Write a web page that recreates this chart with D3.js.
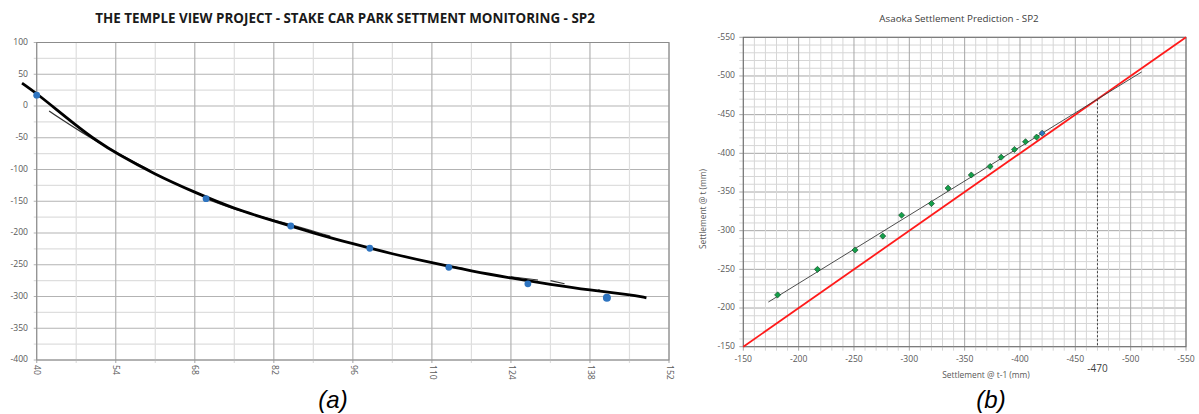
<!DOCTYPE html>
<html>
<head>
<meta charset="utf-8">
<script src="https://cdn.jsdelivr.net/npm/d3@7"></script>
<style>
body { margin: 0; background: #fff; }
svg { display: block; font-family: "Open Sans", sans-serif; }
</style>
</head>
<body>
<svg id="chart" width="1199" height="414"></svg>
<script>
// (a) settlement monitoring
const monitorDays = [40, 70, 85, 99, 113, 127, 141];
const monitorSettlement = [17, -146, -189, -224, -254, -280, -302];
const trendDays = [37.4, 40, 47, 51, 54, 61, 68, 75, 82, 89, 96, 103, 110, 117, 124, 131, 138, 145, 148];
const trendSettlement = [36, 20, -31, -57, -74, -108, -136, -162, -181, -200, -217, -233, -247, -260, -271, -281, -290, -297, -302];
const earlyFitDays = [42.2, 48, 54, 60];
const earlyFitSettlement = [-8, -42, -73, -101];
const midFitDays = [70, 76, 84, 92];
const midFitSettlement = [-146, -166, -184, -205];
const lateFitDays = [110.8, 115.6, 124, 128.8, 131, 133.5, 139.5, 140];
const lateFitSettlement = [-248, -256, -269, -274, -275, -280, -289, -292];
const dayTicks = [40, 54, 68, 82, 96, 110, 124, 138, 152];
const settlementTicks = [100, 50, 0, -50, -100, -150, -200, -250, -300, -350, -400];

// (b) Asaoka plot
const asaokaPrev = [-181, -217, -251, -276, -293, -320, -335, -356, -373, -383, -395, -405, -415, -420];
const asaokaCurr = [-217, -250, -275, -293, -320, -335, -355, -372, -383, -395, -405, -415, -421, -426];
const asaokaTicks = [-150, -200, -250, -300, -350, -400, -450, -500, -550];
const asaokaBeta = 0.882;
const asaokaIntercept = -55.46;
const fitRange = [-172.6, -510];
const finalSettlement = -470;

const svg = d3.select('#chart');
const grey = '#595959';

// ---------- chart (a) ----------
const xA = d3.scaleLinear().domain([40, 152]).range([36.7, 669]);
const yA = d3.scaleLinear().domain([-400, 100]).range([360, 42.5]);
const a = svg.append('g');

a.append('text')
    .attr('x', 345).attr('y', 23)
    .attr('text-anchor', 'middle')
    .style('font-weight', 'bold').style('font-size', '13.4px')
    .style('fill', '#1a1a1a')
    .text('THE TEMPLE VIEW PROJECT - STAKE CAR PARK SETTMENT MONITORING - SP2');

a.selectAll('.hgrid')
    .data(d3.range(-400, 101, 25))
    .enter().append('line')
    .attr('x1', xA(40) - 3).attr('x2', xA(152))
    .attr('y1', d => yA(d)).attr('y2', d => yA(d))
    .style('stroke', d => d % 50 === 0 ? '#b3b3b3' : '#dedede')
    .style('stroke-width', 1.2);
a.selectAll('.vgrid')
    .data(d3.range(40, 153, 7))
    .enter().append('line')
    .attr('x1', d => xA(d)).attr('x2', d => xA(d))
    .attr('y1', yA(100)).attr('y2', yA(-400) + 3)
    .style('stroke', d => (d - 40) % 14 === 0 ? '#b3b3b3' : '#dedede')
    .style('stroke-width', 1.2);
a.append('rect')
    .attr('x', xA(40)).attr('y', yA(100))
    .attr('width', xA(152) - xA(40)).attr('height', yA(-400) - yA(100))
    .style('fill', 'none').style('stroke', '#8c8c8c');

a.selectAll('.ylab')
    .data(settlementTicks)
    .enter().append('text')
    .attr('x', 28).attr('y', d => yA(d))
    .attr('text-anchor', 'end').attr('dominant-baseline', 'middle')
    .style('font-size', '8.6px').style('fill', grey)
    .text(d => d);
a.selectAll('.xlab')
    .data(dayTicks)
    .enter().append('text')
    .attr('transform', d => `translate(${xA(d)}, 365) rotate(90)`)
    .attr('dominant-baseline', 'middle')
    .style('font-size', '8.6px').style('fill', grey)
    .text(d => d);

const lineA = (xs, ys, curve) => d3.line()
    .x(i => xA(xs[i])).y(i => yA(ys[i]))
    .curve(curve)(d3.range(xs.length));

a.append('path')
    .attr('d', lineA(earlyFitDays, earlyFitSettlement, d3.curveBasis))
    .style('fill', 'none').style('stroke', '#333').style('stroke-width', 1.3);
a.append('path')
    .attr('d', lineA(midFitDays, midFitSettlement, d3.curveBasis))
    .style('fill', 'none').style('stroke', '#444').style('stroke-width', 1.2);
[[0, 1], [2, 3], [4, 5], [6, 7]].forEach(p => {
    a.append('path')
        .attr('d', lineA(p.map(i => lateFitDays[i]), p.map(i => lateFitSettlement[i]), d3.curveLinear))
        .style('fill', 'none').style('stroke', '#333').style('stroke-width', 1.1);
});
a.append('path')
    .attr('d', lineA(trendDays, trendSettlement, d3.curveBasis))
    .style('fill', 'none').style('stroke', '#000').style('stroke-width', 2.8);

a.selectAll('.pt')
    .data(d3.range(monitorDays.length))
    .enter().append('circle')
    .attr('cx', i => xA(monitorDays[i])).attr('cy', i => yA(monitorSettlement[i]))
    .attr('r', (_, i) => i === monitorDays.length - 1 ? 4 : 3.4)
    .style('fill', '#2e74c0');

a.append('text')
    .attr('x', 333).attr('y', 408)
    .attr('text-anchor', 'middle')
    .style('font-family', '"Liberation Sans", Arial, sans-serif')
    .style('font-style', 'italic').style('font-size', '24px')
    .text('(a)');

// ---------- chart (b) ----------
const xB = d3.scaleLinear().domain([-150, -550]).range([743.3, 1186]);
const yB = d3.scaleLinear().domain([-150, -550]).range([346.7, 37.3]);
const b = svg.append('g');

b.append('text')
    .attr('x', 959).attr('y', 22)
    .attr('text-anchor', 'middle')
    .style('font-size', '9.8px').style('fill', '#404040')
    .text('Asaoka Settlement Prediction - SP2');

const gridB = d3.range(-150, -551, -10);
b.selectAll('.hgrid')
    .data(gridB)
    .enter().append('line')
    .attr('x1', xB(-150) - 4).attr('x2', xB(-550))
    .attr('y1', d => yB(d)).attr('y2', d => yB(d))
    .style('stroke', d => d % 50 === 0 ? '#a6a6a6' : '#d6d6d6')
    .style('stroke-width', 1);
b.selectAll('.vgrid')
    .data(gridB)
    .enter().append('line')
    .attr('x1', d => xB(d)).attr('x2', d => xB(d))
    .attr('y1', yB(-550)).attr('y2', yB(-150) + 4)
    .style('stroke', d => d % 50 === 0 ? '#a6a6a6' : '#d6d6d6')
    .style('stroke-width', 1);
b.append('rect')
    .attr('x', xB(-150)).attr('y', yB(-550))
    .attr('width', xB(-550) - xB(-150)).attr('height', yB(-150) - yB(-550))
    .style('fill', 'none').style('stroke', '#6e6e6e');

b.selectAll('.ylab')
    .data(asaokaTicks)
    .enter().append('text')
    .attr('x', 735).attr('y', d => yB(d))
    .attr('text-anchor', 'end').attr('dominant-baseline', 'middle')
    .style('font-size', '8.6px').style('fill', grey)
    .text(d => d);
b.selectAll('.xlab')
    .data(asaokaTicks)
    .enter().append('text')
    .attr('x', d => xB(d)).attr('y', 360)
    .attr('text-anchor', 'middle').attr('dominant-baseline', 'middle')
    .style('font-size', '8.6px').style('fill', grey)
    .text(d => d);

b.append('text')
    .attr('x', 986).attr('y', 378)
    .attr('text-anchor', 'middle')
    .style('font-size', '8.4px').style('fill', grey)
    .text('Settlement @ t-1 (mm)');
b.append('text')
    .attr('transform', 'translate(706, 209) rotate(-90)')
    .attr('text-anchor', 'middle')
    .style('font-size', '8.4px').style('fill', grey)
    .text('Settlement @ t (mm)');

// y = x line
b.append('line')
    .attr('x1', xB(-150)).attr('y1', yB(-150))
    .attr('x2', xB(-550)).attr('y2', yB(-550))
    .style('stroke', '#ff1a1a').style('stroke-width', 1.8);
// Asaoka regression line
b.append('line')
    .attr('x1', xB(fitRange[0])).attr('y1', yB(asaokaBeta * fitRange[0] + asaokaIntercept))
    .attr('x2', xB(fitRange[1])).attr('y2', yB(asaokaBeta * fitRange[1] + asaokaIntercept))
    .style('stroke', '#3a3a3a').style('stroke-width', 0.9);
// final settlement marker
b.append('line')
    .attr('x1', xB(finalSettlement)).attr('x2', xB(finalSettlement))
    .attr('y1', yB(finalSettlement)).attr('y2', yB(-150))
    .style('stroke', '#404040').style('stroke-width', 1)
    .style('stroke-dasharray', '2,2');
b.append('text')
    .attr('x', xB(finalSettlement)).attr('y', 372)
    .attr('text-anchor', 'middle')
    .style('font-size', '10px').style('fill', '#404040')
    .text(finalSettlement);

b.selectAll('.pt')
    .data(d3.range(asaokaPrev.length))
    .enter().append('path')
    .attr('d', d3.symbol(d3.symbolDiamond2, 24))
    .attr('transform', i => `translate(${xB(asaokaPrev[i])}, ${yB(asaokaCurr[i])})`)
    .style('fill', (_, i) => i === asaokaPrev.length - 1 ? '#2e74c0' : '#14a04a')
    .style('stroke', '#0d3b1e').style('stroke-width', 0.6);

b.append('text')
    .attr('x', 991).attr('y', 408)
    .attr('text-anchor', 'middle')
    .style('font-family', '"Liberation Sans", Arial, sans-serif')
    .style('font-style', 'italic').style('font-size', '24px')
    .text('(b)');
</script>
</body>
</html>
